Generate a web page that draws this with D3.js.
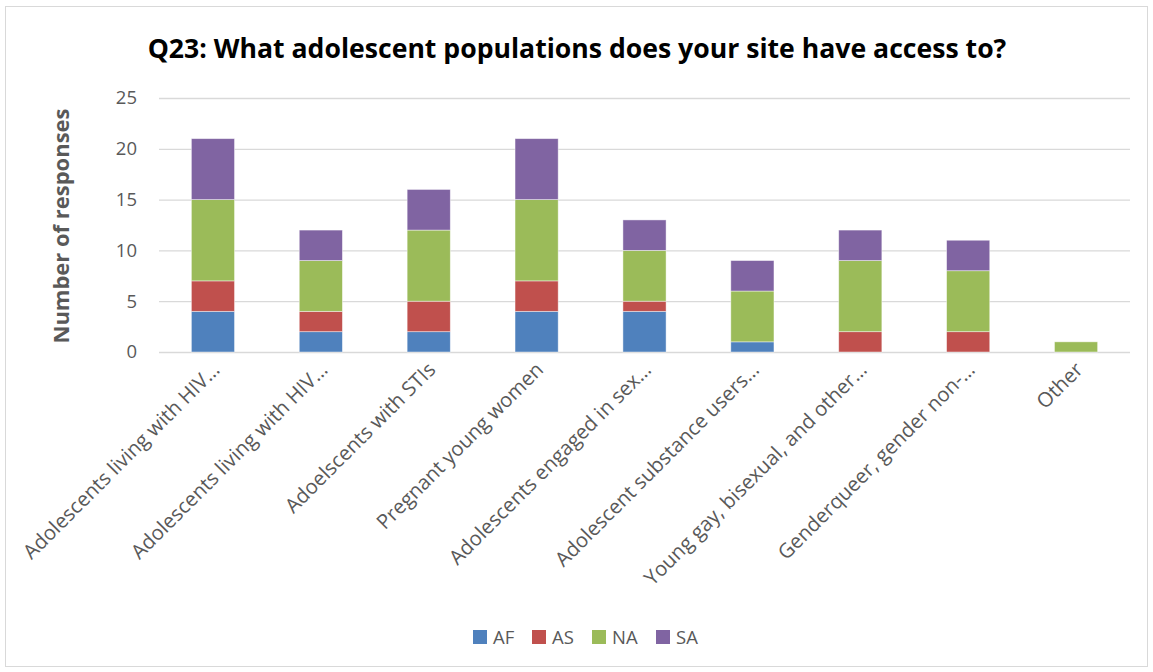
<!DOCTYPE html>
<html>
<head>
<meta charset="utf-8">
<script src="https://cdn.jsdelivr.net/npm/d3@7"></script>
<style>
  html, body { margin: 0; padding: 0; background: #fff; }
  svg { display: block; }
  text { font-family: "Open Sans", "Noto Sans", sans-serif; }
</style>
</head>
<body>
<script>
// Survey responses per adolescent population, stacked by region
const categories = [
  "Adolescents living with HIV…",
  "Adolescents living with HIV…",
  "Adoelscents with STIs",
  "Pregnant young women",
  "Adolescents engaged in sex…",
  "Adolescent substance users…",
  "Young gay, bisexual, and other…",
  "Genderqueer, gender non-…",
  "Other"
];
const seriesNames = ["AF", "AS", "NA", "SA"];
const AF = [4, 2, 2, 4, 4, 1, 0, 0, 0];
const AS = [3, 2, 3, 3, 1, 0, 2, 2, 0];
const NA = [8, 5, 7, 8, 5, 5, 7, 6, 1];
const SA = [6, 3, 4, 6, 3, 3, 3, 3, 0];
const yTicks = [0, 5, 10, 15, 20, 25];
const colors = ["#4F81BD", "#C0504D", "#9BBB59", "#8064A2"];
const titleText = "Q23: What adolescent populations does your site have access to?";
const yTitle = "Number of responses";

const W = 1153, H = 672;
const margin = { left: 159, right: 23, top: 98, bottom: 320 };
const plotW = W - margin.left - margin.right;
const plotH = H - margin.top - margin.bottom;

const rows = categories.map((c, i) => ({
  key: i, label: c, AF: AF[i], AS: AS[i], NA: NA[i], SA: SA[i]
}));
const stacked = d3.stack().keys(seriesNames)(rows);

const svg = d3.select("body").append("svg").attr("width", W).attr("height", H);

// outer chart frame
svg.append("rect")
  .attr("x", 5.5).attr("y", 6.5).attr("width", W - 11).attr("height", H - 12)
  .attr("fill", "#fff").attr("stroke", "#d9d9d9").attr("stroke-width", 1);

// scale a text element's font so its rendered width equals the target
function fitWidth(sel, target) {
  const node = sel.node();
  const base = parseFloat(sel.attr("font-size"));
  const w = node.getComputedTextLength();
  sel.attr("font-size", (base * target / w).toFixed(2));
  return base * target / w;
}

const g = svg.append("g").attr("transform", `translate(${margin.left},${margin.top})`);

const x = d3.scaleBand()
  .domain(rows.map(r => r.key))
  .range([0, plotW])
  .paddingInner(0.6)
  .paddingOuter(0.3);

const y = d3.scaleLinear().domain([0, 25]).range([plotH, 0]);

// horizontal gridlines
g.append("g").attr("class", "grid")
  .call(d3.axisLeft(y).tickValues(yTicks).tickSize(-plotW).tickFormat(""))
  .call(s => s.select(".domain").remove())
  .call(s => s.selectAll("line").attr("stroke", "#d9d9d9").attr("stroke-width", 1.3));

// y tick labels
const yAxis = g.append("g")
  .call(d3.axisLeft(y).tickValues(yTicks).tickSize(0).tickPadding(22))
  .call(s => s.select(".domain").remove());
yAxis.selectAll("text")
  .attr("fill", "#595959")
  .attr("font-size", 18.5)
  .attr("font-family", "'Open Sans', sans-serif");

// stacked bars
g.append("g").selectAll("g")
  .data(stacked)
  .join("g")
  .attr("fill", (d, i) => colors[i])
  .selectAll("rect")
  .data(d => d)
  .join("rect")
  .attr("x", d => x(d.data.key))
  .attr("width", x.bandwidth())
  .attr("y", d => y(d[1]))
  .attr("height", d => y(d[0]) - y(d[1]))
  .attr("stroke", "rgba(255,255,255,0.55)")
  .attr("stroke-width", 0.8);

// category labels, rotated
const xAxis = g.append("g")
  .attr("transform", `translate(0,${plotH})`)
  .call(d3.axisBottom(x).tickSize(0).tickFormat(i => categories[i]))
  .call(s => s.select(".domain").remove());
const xl = xAxis.selectAll("text")
  .attr("fill", "#595959")
  .attr("font-size", 18)
  .attr("text-anchor", "end")
  .attr("dy", null)
  .attr("y", 0)
  .attr("transform", "translate(8,19) rotate(-45)");
// size category labels from the first one's length
const firstLabel = xl.filter((d, i) => i === 0);
const lblSize = fitWidth(firstLabel, 268);
xl.attr("font-size", lblSize.toFixed(2));

// title
const t = svg.append("text")
  .attr("x", 577).attr("y", 58)
  .attr("text-anchor", "middle")
  .attr("font-weight", "bold")
  .attr("font-size", 24)
  .attr("fill", "#000")
  .text(titleText);
fitWidth(t, 859);

// y-axis title
const yt = svg.append("text")
  .attr("transform", "translate(69,226) rotate(-90)")
  .attr("text-anchor", "middle")
  .attr("font-weight", "bold")
  .attr("font-size", 20)
  .attr("fill", "#595959")
  .text(yTitle);
fitWidth(yt, 235);

// legend
const legendX = [473, 532, 592, 656];
const lg = svg.append("g");
seriesNames.forEach((name, i) => {
  lg.append("rect")
    .attr("x", legendX[i]).attr("y", 630)
    .attr("width", 14).attr("height", 14)
    .attr("fill", colors[i]);
  lg.append("text")
    .attr("x", legendX[i] + 20).attr("y", 644)
    .attr("font-size", 18.5)
    .attr("fill", "#595959")
    .text(name);
});
</script>
</body>
</html>
